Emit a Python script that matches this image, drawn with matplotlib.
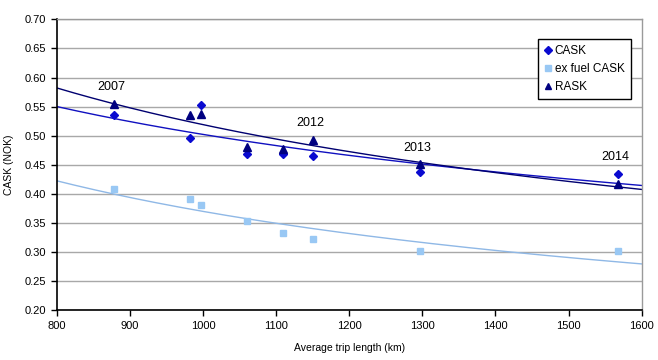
import numpy as np
import matplotlib
matplotlib.use("Agg")
import matplotlib.pyplot as plt

plt.rcParams['font.family'] = ['Liberation Sans', 'DejaVu Sans']

trip_km = [878, 982, 997, 1060, 1110, 1150, 1297, 1568]
cask = [0.535, 0.496, 0.553, 0.468, 0.469, 0.465, 0.437, 0.435]
ex_fuel_cask = [0.408, 0.392, 0.381, 0.353, 0.332, 0.323, 0.302, 0.302]
rask = [0.555, 0.535, 0.537, 0.480, 0.477, 0.493, 0.451, 0.417]
year_labels = {0: "2007", 5: "2012", 6: "2013", 7: "2014"}

x_ticks = [800, 900, 1000, 1100, 1200, 1300, 1400, 1500, 1600]
y_ticks = [0.20, 0.25, 0.30, 0.35, 0.40, 0.45, 0.50, 0.55, 0.60, 0.65, 0.70]

fig = plt.figure(figsize=(6.58, 3.6), dpi=100)
ax = fig.add_axes([0.0862, 0.138, 0.889, 0.8084])

def power_fit(x, y):
    b, lna = np.polyfit(np.log(x), np.log(y), 1)
    xs = np.linspace(800, 1600, 200)
    return xs, np.exp(lna) * xs ** b

series = [
    ("CASK", cask, 'D', '#0a0ad0', '#1010c0', 4.2),
    ("ex fuel CASK", ex_fuel_cask, 's', '#99c8f4', '#8fb8e6', 4.8),
    ("RASK", rask, '^', '#000080', '#000070', 5.2),
]
for name, vals, mk, col, lcol, ms in series:
    xs, ys = power_fit(np.array(trip_km, float), np.array(vals, float))
    ax.plot(xs, ys, color=lcol, lw=1.0, zorder=2)
for name, vals, mk, col, lcol, ms in series:
    ax.plot(trip_km, vals, linestyle='none', marker=mk, color=col, ms=ms,
            label=name, zorder=3)

for i, lab in year_labels.items():
    ytop = max(cask[i], rask[i])
    ax.annotate(lab, (trip_km[i], ytop), xytext=(-2, 12), textcoords='offset points',
                ha='center', va='center', fontsize=9)

ax.set_xlim(800, 1600)
ax.set_ylim(0.20, 0.70)
ax.set_xticks(x_ticks)
ax.set_yticks(y_ticks)
ax.set_yticklabels([f"{v:.2f}" for v in y_ticks])
ax.tick_params(labelsize=8, direction='out', length=4, width=1, color='black')
ax.yaxis.grid(True, color='#a8a8a8', lw=1)
ax.set_axisbelow(True)
for s in ['left', 'bottom']:
    ax.spines[s].set_color('black')
    ax.spines[s].set_linewidth(1.2)
for s in ['top', 'right']:
    ax.spines[s].set_color('#9a9a9a')
    ax.spines[s].set_linewidth(1)

ax.set_xlabel("Average trip length (km)", fontsize=7.5, labelpad=9)
ax.set_ylabel("CASK (NOK)", fontsize=7.5, labelpad=8)

leg = ax.legend(loc='upper right', bbox_to_anchor=(0.985, 0.94), fontsize=8.5,
                frameon=True, fancybox=False, edgecolor='black', framealpha=1,
                handlelength=0.6, handletextpad=0.3, borderpad=0.5,
                labelspacing=0.5, borderaxespad=0.2)
leg.get_frame().set_linewidth(1)
for h in leg.legend_handles:
    h.set_markersize(4)

fig.savefig("out.png", dpi=100)
